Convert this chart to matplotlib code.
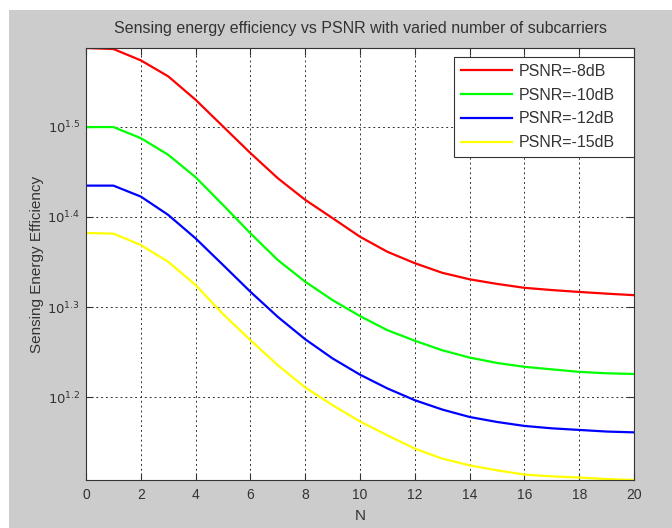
import matplotlib
matplotlib.use("Agg")
import matplotlib.pyplot as plt
from matplotlib.patches import Rectangle
from matplotlib.ticker import FixedLocator, FixedFormatter, NullLocator
import numpy as np

# number of subcarriers
n = np.arange(0, 21)

# sensing energy efficiency (log y axis)
psnr_8 = [38.67, 38.57, 37.47, 35.97, 33.88, 31.65, 29.57, 27.73, 26.24, 25.04, 23.88,
          22.98, 22.32, 21.78, 21.42, 21.17, 20.96, 20.84, 20.74, 20.65, 20.57]
psnr_10 = [31.60, 31.60, 30.72, 29.44, 27.80, 25.90, 24.09, 22.50, 21.29, 20.31, 19.50,
           18.81, 18.31, 17.87, 17.54, 17.30, 17.13, 17.02, 16.91, 16.85, 16.82]
psnr_12 = [27.21, 27.21, 26.46, 25.25, 23.78, 22.22, 20.75, 19.46, 18.38, 17.50, 16.79,
           16.21, 15.73, 15.36, 15.07, 14.88, 14.73, 14.64, 14.58, 14.52, 14.49]
psnr_15 = [24.11, 24.07, 23.38, 22.40, 21.11, 19.60, 18.34, 17.20, 16.25, 15.53, 14.90,
           14.38, 13.90, 13.55, 13.32, 13.15, 13.01, 12.95, 12.91, 12.86, 12.83]

labels = ["PSNR=-8dB", "PSNR=-10dB", "PSNR=-12dB", "PSNR=-15dB"]
colors = ["#ff0000", "#00ff00", "#0000ff", "#ffff00"]

ytick_exp = [1.2, 1.3, 1.4, 1.5]
xticks = list(range(0, 21, 2))

plt.rcParams['font.family'] = ['Liberation Sans', 'DejaVu Sans']

fig = plt.figure(figsize=(6.72, 5.28), dpi=100, facecolor="white")
# MATLAB grey figure background with a thin white margin top/left
fig.patches.append(Rectangle((9 / 672, 0), 1, 1 - 10 / 528, transform=fig.transFigure,
                             facecolor="#cccccc", edgecolor="none", zorder=-10))

ax = fig.add_axes([86 / 672, 1 - 480 / 528, (634 - 86) / 672, (480 - 48) / 528])
ax.set_facecolor("white")

for ys, lab, c in zip([psnr_8, psnr_10, psnr_12, psnr_15], labels, colors):
    ax.plot(n, ys, color=c, linewidth=1.6, label=lab)

ax.set_yscale("log")
alldata = np.concatenate([psnr_8, psnr_10, psnr_12, psnr_15])
ax.set_xlim(0, 20)
ax.set_ylim(alldata.min(), alldata.max())

ax.yaxis.set_major_locator(FixedLocator([10 ** e for e in ytick_exp]))
ax.yaxis.set_major_formatter(FixedFormatter([r"$10^{%.1f}$" % e for e in ytick_exp]))
ax.yaxis.set_minor_locator(NullLocator())
ax.set_xticks(xticks)

ax.grid(True, color="#333333", linestyle=(0, (2, 3)), linewidth=0.7)
ax.tick_params(direction="in", top=True, right=True, length=5, labelsize=10,
               colors="#333333", labelcolor="#333333", pad=6)
ax.tick_params(axis="y", labelsize=9.5, pad=4)
for s in ax.spines.values():
    s.set_color("#333333")
    s.set_linewidth(0.8)

ax.set_title("Sensing energy efficiency vs PSNR with varied number of subcarriers",
             fontsize=11.5, color="#333333", pad=11)
ax.set_xlabel("N", fontsize=11, color="#333333")
ax.set_ylabel("Sensing Energy Efficiency", fontsize=11, color="#333333")
ax.xaxis.set_label_coords(0.5, -0.068)
ax.yaxis.set_label_coords(-0.077, 0.5)

leg = ax.legend(loc="upper left", bbox_to_anchor=(0.6715, 0.5, 0.3285, 0.48), mode="expand",
                fontsize=11.5, handlelength=3.2, fancybox=False, framealpha=1,
                edgecolor="#333333", borderaxespad=0, labelspacing=0.55,
                handletextpad=0.4, borderpad=0.45)
leg.get_frame().set_linewidth(0.8)
for t in leg.get_texts():
    t.set_color("#333333")

fig.savefig("out.png", dpi=100, facecolor=fig.get_facecolor())
